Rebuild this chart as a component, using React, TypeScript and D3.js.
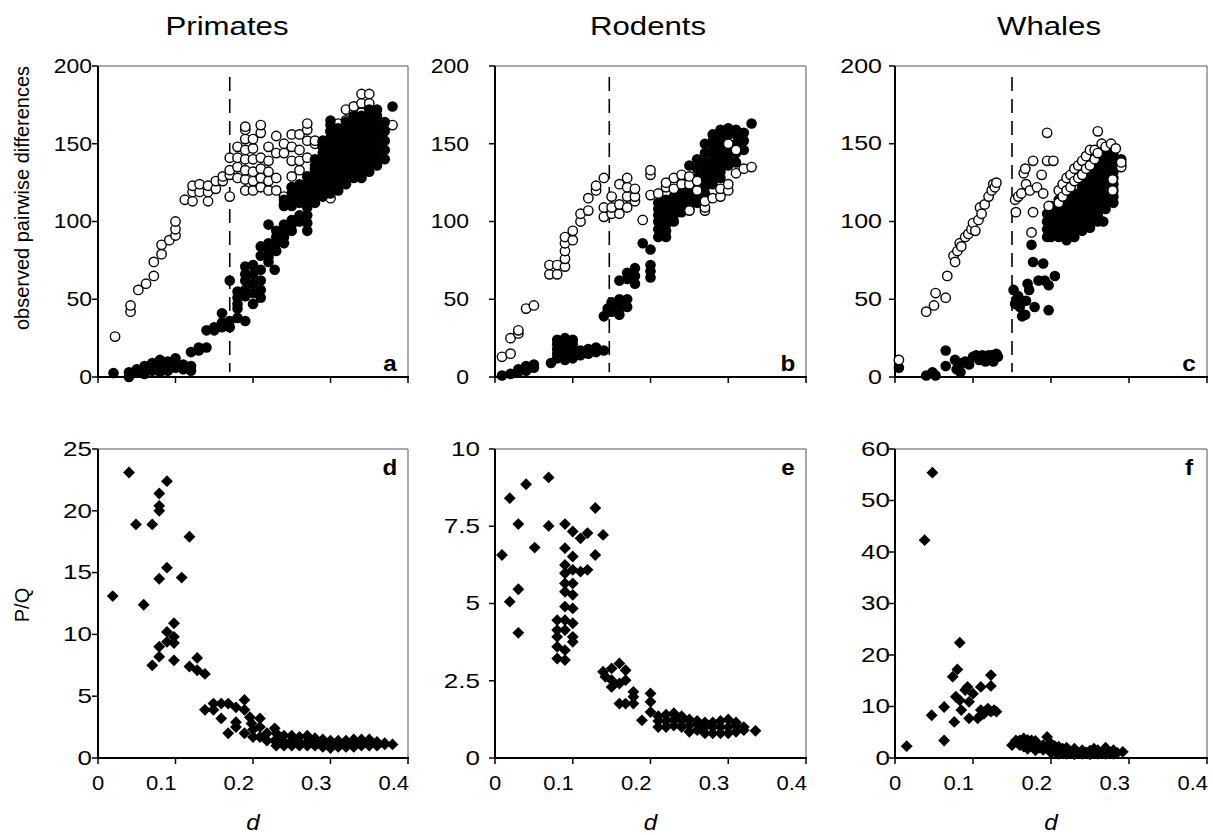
import React from 'react';
import * as d3 from 'd3';

// ---------- DATA ----------
// Column format: [d, value1, value2, ...]
type Col = number[];

const titles = ['Primates', 'Rodents', 'Whales'];
const topLetters = ['a', 'b', 'c'];
const bottomLetters = ['d', 'e', 'f'];
const xTicks = [0, 0.1, 0.2, 0.3, 0.4];
const xTickLabels = ['0', '0.1', '0.2', '0.3', '0.4'];
const topYTicks = [0, 50, 100, 150, 200];
const bottomYMax = [25, 10, 60];
const bottomYTicks = [
  [0, 5, 10, 15, 20, 25],
  [0, 2.5, 5, 7.5, 10],
  [0, 10, 20, 30, 40, 50, 60],
];
const bottomYTickLabels = [
  ['0', '5', '10', '15', '20', '25'],
  ['0', '2.5', '5', '7.5', '10'],
  ['0', '10', '20', '30', '40', '50', '60'],
];
const dashedD = [0.17, 0.147, 0.15];

// Primates (a) open circles
const primatesOpen: Col[] = [
  [0.022, 26], [0.042, 42, 46], [0.052, 56], [0.062, 60], [0.072, 65, 74], [0.082, 79, 85],
  [0.092, 88], [0.1, 91, 95, 100], [0.112, 114], [0.122, 113, 119, 123], [0.131, 119, 124],
  [0.142, 113, 119, 123], [0.152, 121, 126], [0.161, 126, 129], [0.17, 116, 130, 133, 141],
  [0.18, 128, 135, 141, 148], [0.19, 120, 127, 133, 140, 146, 153, 159, 161],
  [0.2, 120, 126, 132, 140, 147, 153], [0.21, 122, 128, 134, 141, 157, 162],
  [0.22, 120, 126, 132, 139, 148], [0.23, 120, 128, 144, 155], [0.24, 111, 116, 144, 150],
  [0.25, 122, 129, 139, 148, 156], [0.26, 133, 139, 146, 156], [0.27, 141, 152, 159, 163],
  [0.28, 134, 150, 152], [0.29, 148, 151], [0.3, 115, 158], [0.31, 126, 163],
  [0.32, 165, 172], [0.33, 166, 170, 174], [0.34, 170, 176, 182], [0.35, 176, 182], [0.38, 162],
];
// Primates (a) filled circles
const primatesFilled: Col[] = [
  [0.02, 2.5], [0.04, 0, 3], [0.05, 3, 5], [0.06, 2, 5, 7], [0.07, 4, 6, 9], [0.08, 3, 6, 9, 11],
  [0.09, 4, 7, 10], [0.1, 6, 9, 12], [0.11, 5, 8], [0.12, 4, 7, 16], [0.13, 17, 19], [0.14, 19, 30],
  [0.15, 30, 32], [0.16, 32, 35, 41], [0.17, 32, 36, 62], [0.18, 38, 44, 47, 51, 55],
  [0.19, 36, 52, 56, 62, 66, 71], [0.2, 47, 54, 60, 66, 72], [0.21, 51, 56, 62, 69, 78, 84],
  [0.22, 74, 77, 82, 86, 98], [0.228, 69], [0.23, 81, 86, 90, 94], [0.24, 86, 90, 94, 98, 110, 114],
  [0.25, 94, 98, 101, 110, 114, 118, 122], [0.26, 100, 104, 112, 116, 120, 124],
  [0.27, 94, 99, 104, 109, 113, 117, 121, 125, 129],
  [0.28, 112, 116, 120, 124, 128, 132, 136, 140],
  [0.29, 116, 120, 124, 128, 132, 136, 140, 144, 148, 152],
  [0.3, 118, 122, 126, 130, 134, 138, 142, 146, 150, 154, 158, 162, 165],
  [0.31, 120, 124, 128, 132, 136, 140, 144, 148, 152, 156, 160],
  [0.32, 124, 128, 132, 136, 140, 144, 148, 152, 156, 160, 164],
  [0.33, 128, 132, 136, 140, 144, 148, 152, 156, 160, 164, 168],
  [0.34, 128, 132, 136, 140, 144, 148, 152, 156, 160, 164, 168],
  [0.35, 132, 136, 140, 144, 148, 152, 156, 160, 164, 168, 172],
  [0.36, 136, 140, 144, 148, 152, 156, 160, 164, 168, 172],
  [0.37, 140, 146, 152, 158, 164], [0.38, 174],
];

// Rodents (b)
const rodentsOpen: Col[] = [
  [0.009, 13], [0.02, 15, 25], [0.03, 28, 30], [0.04, 44], [0.05, 46], [0.07, 66, 72], [0.08, 66, 72],
  [0.09, 71, 76, 81, 86, 90], [0.1, 88, 94], [0.11, 100, 105], [0.12, 107, 115], [0.13, 120, 123],
  [0.14, 103, 109, 128], [0.15, 105, 109, 116], [0.16, 105, 111, 124], [0.17, 109, 116, 122, 128],
  [0.18, 113, 116, 121], [0.19, 101], [0.2, 117, 130, 133], [0.21, 118], [0.22, 122, 125],
  [0.23, 121, 128], [0.24, 124, 130], [0.25, 107, 124, 129], [0.26, 120, 126], [0.27, 107, 109, 113],
  [0.28, 115], [0.29, 116, 121], [0.3, 120, 124, 150], [0.31, 131, 146], [0.32, 134], [0.33, 135],
];
const rodentsFilled: Col[] = [
  [0.009, 1], [0.02, 2], [0.03, 3, 5], [0.04, 4, 7], [0.05, 6, 8], [0.072, 9],
  [0.08, 12, 15, 18, 21, 24], [0.09, 11, 14, 17, 20, 23, 25], [0.1, 12, 15, 18, 21, 24],
  [0.11, 14, 17], [0.12, 15, 18], [0.13, 16, 19], [0.14, 17, 39], [0.145, 42, 44],
  [0.15, 42, 46, 48], [0.16, 40, 44, 47, 50, 62], [0.17, 45, 50, 63, 67], [0.18, 60, 65, 70],
  [0.19, 86], [0.2, 64, 68, 72, 82], [0.21, 90, 95, 100, 104, 108, 112],
  [0.22, 90, 94, 98, 102, 106, 110, 114], [0.23, 100, 104, 108, 112, 116],
  [0.24, 106, 110, 114, 118, 122], [0.25, 108, 112, 116, 120, 124, 128, 136],
  [0.26, 112, 116, 120, 124, 128, 134, 140], [0.27, 118, 122, 126, 130, 134, 138, 144, 150],
  [0.28, 124, 128, 132, 136, 140, 144, 148, 152, 156], [0.29, 128, 132, 136, 140, 144, 148, 152, 156, 159],
  [0.3, 136, 140, 144, 150, 156, 160], [0.31, 138, 144, 150, 156, 159], [0.32, 146, 152, 157], [0.33, 163],
];

// Whales (c)
const whalesOpen: Col[] = [
  [0.005, 11], [0.04, 42], [0.05, 46], [0.052, 54], [0.065, 51], [0.067, 65], [0.075, 78], [0.077, 74],
  [0.08, 81], [0.083, 86], [0.085, 84], [0.09, 90], [0.094, 92], [0.098, 95], [0.1, 99], [0.103, 94],
  [0.107, 101], [0.109, 109], [0.111, 105], [0.115, 111], [0.12, 116], [0.124, 120], [0.126, 124],
  [0.128, 122], [0.13, 125],
  [0.154, 114], [0.155, 106], [0.158, 116], [0.162, 118], [0.165, 131], [0.167, 134], [0.168, 124],
  [0.173, 120], [0.175, 93], [0.177, 106, 139], [0.182, 122], [0.188, 130], [0.19, 118],
  [0.195, 139, 157], [0.197, 110], [0.203, 139],
  [0.21, 112, 120], [0.215, 116, 124], [0.22, 120, 128], [0.225, 122, 130], [0.23, 126, 134],
  [0.235, 128, 136], [0.24, 130, 139], [0.245, 134, 142], [0.25, 136, 146], [0.256, 140, 146],
  [0.26, 144, 158], [0.265, 150], [0.27, 148], [0.277, 150], [0.279, 120, 127], [0.283, 147],
  [0.29, 135, 138],
];
const whalesFilled: Col[] = [
  [0.005, 6], [0.04, 1], [0.048, 3], [0.052, 1], [0.065, 7, 17], [0.077, 11], [0.079, 5], [0.084, 3],
  [0.086, 9], [0.09, 10], [0.095, 8], [0.1, 13], [0.104, 14], [0.108, 11], [0.112, 14], [0.116, 10],
  [0.12, 14], [0.124, 14], [0.126, 10], [0.13, 15], [0.132, 13],
  [0.152, 56], [0.154, 47], [0.156, 50], [0.158, 52], [0.16, 45], [0.163, 39], [0.167, 40], [0.168, 49],
  [0.17, 60], [0.172, 56], [0.175, 85], [0.177, 74], [0.179, 45], [0.184, 62], [0.19, 73], [0.192, 62],
  [0.197, 43, 59], [0.205, 65],
  [0.195, 90, 95, 100, 105], [0.2, 90, 94, 98, 102, 106, 110], [0.21, 90, 94, 98, 102, 106, 110, 114],
  [0.22, 88, 92, 96, 100, 104, 108, 112, 116], [0.23, 90, 94, 98, 102, 106, 110, 114, 118],
  [0.24, 94, 98, 102, 106, 110, 114, 118, 122, 126],
  [0.25, 96, 100, 104, 108, 112, 116, 120, 124, 128, 132],
  [0.26, 100, 104, 108, 112, 116, 120, 124, 128, 132, 136, 140], [0.267, 100],
  [0.27, 108, 112, 116, 120, 124, 128, 132, 136, 140, 144, 148],
  [0.28, 112, 116, 120, 124, 128, 132, 136, 140, 144], [0.29, 136, 140],
];

// Bottom row: P/Q
const primatesPQ: Col[] = [
  [0.019, 13.1], [0.04, 23.1], [0.049, 18.9], [0.059, 12.4], [0.07, 7.5, 18.9],
  [0.079, 8.2, 9.0, 14.5, 20.0, 20.4, 21.4], [0.089, 9.4, 10.2, 15.4, 22.4], [0.098, 7.9, 9.3, 9.8, 10.9],
  [0.108, 14.6], [0.118, 7.4, 17.9], [0.128, 7.1, 8.1], [0.138, 3.9, 6.8],
  [0.149, 3.9, 4.4], [0.159, 3.2, 4.4], [0.168, 2.0, 4.4], [0.178, 2.5, 2.9, 4.1], [0.189, 2.0, 3.9, 4.7],
  [0.196, 3.3], [0.198, 2.8], [0.2, 1.7, 2.3], [0.209, 1.7, 2.5, 3.2], [0.218, 1.4, 2.0], [0.228, 1.4, 2.4],
  [0.23, 1.0, 1.5, 2.0], [0.24, 1.0, 1.3, 1.8], [0.25, 1.0, 1.4, 1.8], [0.26, 1.0, 1.3, 1.7],
  [0.27, 1.0, 1.3, 1.8], [0.28, 1.0, 1.3, 1.6], [0.29, 0.9, 1.2, 1.5], [0.3, 0.8, 1.1, 1.4],
  [0.31, 0.9, 1.2, 1.4], [0.32, 0.9, 1.1, 1.4], [0.33, 0.9, 1.2, 1.5], [0.34, 1.0, 1.2, 1.5],
  [0.35, 1.0, 1.2, 1.5], [0.36, 1.0, 1.3], [0.37, 1.1, 1.2], [0.38, 1.1],
];
const rodentsPQ: Col[] = [
  [0.009, 6.57], [0.019, 5.06, 8.41], [0.03, 4.05, 5.46, 7.57], [0.04, 8.86], [0.051, 6.81],
  [0.069, 7.51, 9.08], [0.08, 3.22, 3.6, 3.92, 4.14, 4.46],
  [0.09, 3.17, 3.49, 4.14, 4.46, 4.9, 5.38, 5.65, 5.98, 6.25, 6.79, 7.57],
  [0.1, 3.76, 3.92, 4.36, 4.84, 5.28, 5.65, 6.09, 6.52, 7.33], [0.11, 6.03, 7.11], [0.119, 6.09, 7.28],
  [0.129, 6.57, 8.09], [0.139, 2.79, 7.22], [0.142, 2.63], [0.15, 2.3, 2.52, 2.9],
  [0.16, 1.76, 2.41, 3.06], [0.168, 1.76, 2.52, 2.84], [0.178, 1.76, 1.98, 2.14], [0.189, 1.22],
  [0.2, 1.49, 1.82, 2.09], [0.21, 1.0, 1.2, 1.35], [0.22, 1.0, 1.2, 1.4], [0.23, 1.05, 1.25, 1.45],
  [0.24, 1.0, 1.2, 1.35], [0.25, 0.85, 1.05, 1.25], [0.26, 0.9, 1.1, 1.2], [0.27, 0.8, 1.0, 1.15],
  [0.28, 0.8, 1.0, 1.15], [0.29, 0.8, 1.0, 1.2], [0.3, 0.8, 1.0, 1.25], [0.31, 0.85, 1.05, 1.15],
  [0.32, 0.9, 1.0], [0.335, 0.88],
];
const whalesPQ: Col[] = [
  [0.015, 2.3], [0.038, 42.3], [0.048, 55.4], [0.047, 8.3], [0.063, 3.4, 9.9], [0.074, 15.8], [0.076, 7.0],
  [0.078, 11.9], [0.08, 17.2], [0.083, 11.2, 22.4], [0.085, 9.3], [0.09, 13.2], [0.093, 13.8],
  [0.095, 7.7, 10.9], [0.1, 12.5], [0.106, 7.7], [0.11, 8.3, 9.3, 13.8], [0.114, 8.6], [0.119, 9.3, 9.6],
  [0.123, 9.0, 14.0, 16.1], [0.127, 9.3], [0.13, 9.0],
  [0.15, 2.5], [0.155, 3.4], [0.16, 2.5, 3.4], [0.165, 2.2, 3.8], [0.17, 1.8, 2.8, 3.5],
  [0.175, 2.3, 3.4], [0.18, 1.5, 2.8, 3.3], [0.185, 2.0], [0.19, 1.6, 2.5], [0.195, 2.0, 4.1],
  [0.2, 1.0, 1.8, 2.8], [0.205, 1.2, 2.3], [0.21, 0.8, 1.5, 2.2], [0.215, 1.0, 1.8],
  [0.22, 0.8, 1.4, 2.0], [0.225, 1.2], [0.23, 0.7, 1.3, 1.8], [0.235, 1.0], [0.24, 0.8, 1.5],
  [0.245, 1.1], [0.25, 0.7, 1.4], [0.255, 1.0, 1.8], [0.26, 0.8, 1.5], [0.265, 1.1],
  [0.27, 0.8, 1.4, 2.0], [0.275, 1.1], [0.28, 0.8, 1.5], [0.285, 1.0], [0.292, 1.2],
];

const topOpen = [primatesOpen, rodentsOpen, whalesOpen];
const topFilled = [primatesFilled, rodentsFilled, whalesFilled];
const openOnTop = [false, true, true];
const bottomPQ = [primatesPQ, rodentsPQ, whalesPQ];

// ---------- LAYOUT ----------
const W = 1213;
const H = 835;
const colX = [
  [98, 408],
  [495, 806],
  [895, 1207],
];
const titleX = [227, 648, 1049];
const topRow = [66, 377];
const botRow = [449, 758];
const topLabelGap = [6, 26, 13];
const botLabelGap = [6, 15, 5];
const FONT = '"Liberation Sans", Arial, Helvetica, sans-serif';

function expand(cols: Col[]): [number, number][] {
  const out: [number, number][] = [];
  cols.forEach((c) => {
    for (let i = 1; i < c.length; i++) out.push([c[0], c[i]]);
  });
  return out;
}

const diamondPath = d3.symbol().type(d3.symbolSquare).size(70)() as string;

function Frame({ x0, x1, y0, y1 }: { x0: number; x1: number; y0: number; y1: number }) {
  return (
    <g>
      <line x1={x0} y1={y0} x2={x1} y2={y0} stroke="#555" strokeWidth={1} />
      <line x1={x1} y1={y0} x2={x1} y2={y1} stroke="#555" strokeWidth={1} />
      <line x1={x0} y1={y0} x2={x0} y2={y1} stroke="#000" strokeWidth={2} />
      <line x1={x0 - 1} y1={y1} x2={x1 + 1} y2={y1} stroke="#000" strokeWidth={2} />
    </g>
  );
}

function HText({ x, y, anchor, size, children, weight, italic, sx }: any) {
  return (
    <text
      transform={`translate(${x},${y}) scale(${sx || 1.15},1)`}
      textAnchor={anchor}
      dominantBaseline="central"
      fontSize={size}
      fontWeight={weight || 'normal'}
      fontStyle={italic ? 'italic' : 'normal'}
      fontFamily={FONT}
      fill="#000"
    >
      {children}
    </text>
  );
}

function TopPanel({ i }: { i: number }) {
  const [x0, x1] = colX[i];
  const [y0, y1] = topRow;
  const x = d3.scaleLinear().domain([0, 0.4]).range([x0, x1]);
  const y = d3.scaleLinear().domain([0, 200]).range([y1, y0]);
  const open = expand(topOpen[i]);
  const filled = expand(topFilled[i]);
  const openEls = open.map((p, k) => (
    <circle key={'o' + k} cx={x(p[0])} cy={y(p[1])} r={4.7} fill="#fff" stroke="#000" strokeWidth={1.4} />
  ));
  const filledEls = filled.map((p, k) => (
    <circle key={'f' + k} cx={x(p[0])} cy={y(p[1])} r={5.3} fill="#000" />
  ));
  return (
    <g>
      <Frame x0={x0} x1={x1} y0={y0} y1={y1} />
      {xTicks.map((t) => (
        <line key={'xt' + t} x1={x(t)} x2={x(t)} y1={y1} y2={y1 + 6} stroke="#000" strokeWidth={1.5} />
      ))}
      {topYTicks.map((t) => (
        <g key={'yt' + t}>
          <line x1={x0 - 6} x2={x0} y1={y(t)} y2={y(t)} stroke="#000" strokeWidth={1.5} />
          <HText x={x0 - topLabelGap[i]} y={y(t)} anchor="end" size={20} sx={i === 2 ? 1.25 : 1.15}>
            {String(t)}
          </HText>
        </g>
      ))}
      <line
        x1={x(dashedD[i])}
        x2={x(dashedD[i])}
        y1={y(193)}
        y2={y(3)}
        stroke="#000"
        strokeWidth={1.6}
        strokeDasharray="14,8"
      />
      {openOnTop[i] ? filledEls : openEls}
      {openOnTop[i] ? openEls : filledEls}
      <HText x={x1 - 18} y={y1 - 14} anchor="middle" size={22} weight="bold" sx={1.1}>
        {topLetters[i]}
      </HText>
      <text
        transform={`translate(${titleX[i]},26) scale(1.2,1)`}
        textAnchor="middle"
        dominantBaseline="central"
        fontSize={26}
        fontFamily={FONT}
      >
        {titles[i]}
      </text>
    </g>
  );
}

function BottomPanel({ i }: { i: number }) {
  const [x0, x1] = colX[i];
  const [y0, y1] = botRow;
  const x = d3.scaleLinear().domain([0, 0.4]).range([x0, x1]);
  const y = d3.scaleLinear().domain([0, bottomYMax[i]]).range([y1, y0]);
  const pts = expand(bottomPQ[i]);
  return (
    <g>
      <Frame x0={x0} x1={x1} y0={y0} y1={y1} />
      {xTicks.map((t, k) => (
        <g key={'xt' + t}>
          <line x1={x(t)} x2={x(t)} y1={y1} y2={y1 + 6} stroke="#000" strokeWidth={1.5} />
          <HText
            x={t === 0 ? x(t) : x(t) + 1}
            y={y1 + 25}
            anchor={t === 0 ? 'middle' : 'end'}
            size={20}
            sx={1.1}
          >
            {xTickLabels[k]}
          </HText>
        </g>
      ))}
      {bottomYTicks[i].map((t, k) => (
        <g key={'yt' + t}>
          <line x1={x0 - 6} x2={x0} y1={y(t)} y2={y(t)} stroke="#000" strokeWidth={1.5} />
          <HText x={x0 - botLabelGap[i]} y={y(t)} anchor="end" size={20} sx={1.3}>
            {bottomYTickLabels[i][k]}
          </HText>
        </g>
      ))}
      {pts.map((p, k) => (
        <path key={k} d={diamondPath} transform={`translate(${x(p[0])},${y(p[1])}) rotate(45)`} fill="#000" />
      ))}
      <HText x={x1 - 18} y={y0 + 18} anchor="middle" size={22} weight="bold" sx={1.1}>
        {bottomLetters[i]}
      </HText>
      <HText x={(x0 + x1) / 2} y={822} anchor="middle" size={22} italic sx={1.1}>d</HText>
    </g>
  );
}

export default function App() {
  return (
    <svg
      width={W}
      height={H}
      viewBox={`0 0 ${W} ${H}`}
      style={{ position: 'absolute', left: 0, top: 0, background: '#fff' }}
    >
      <rect x={0} y={0} width={W} height={H} fill="#fff" />
      {[0, 1, 2].map((i) => (
        <TopPanel key={'t' + i} i={i} />
      ))}
      {[0, 1, 2].map((i) => (
        <BottomPanel key={'b' + i} i={i} />
      ))}
      <text
        transform="translate(22,198) rotate(-90)"
        textAnchor="middle"
        dominantBaseline="central"
        fontSize={20}
        fontFamily={FONT}
      >
        observed pairwise differences
      </text>
      <text
        transform="translate(22,605) rotate(-90)"
        textAnchor="middle"
        dominantBaseline="central"
        fontSize={20}
        fontFamily={FONT}
      >
        P/Q
      </text>
    </svg>
  );
}
